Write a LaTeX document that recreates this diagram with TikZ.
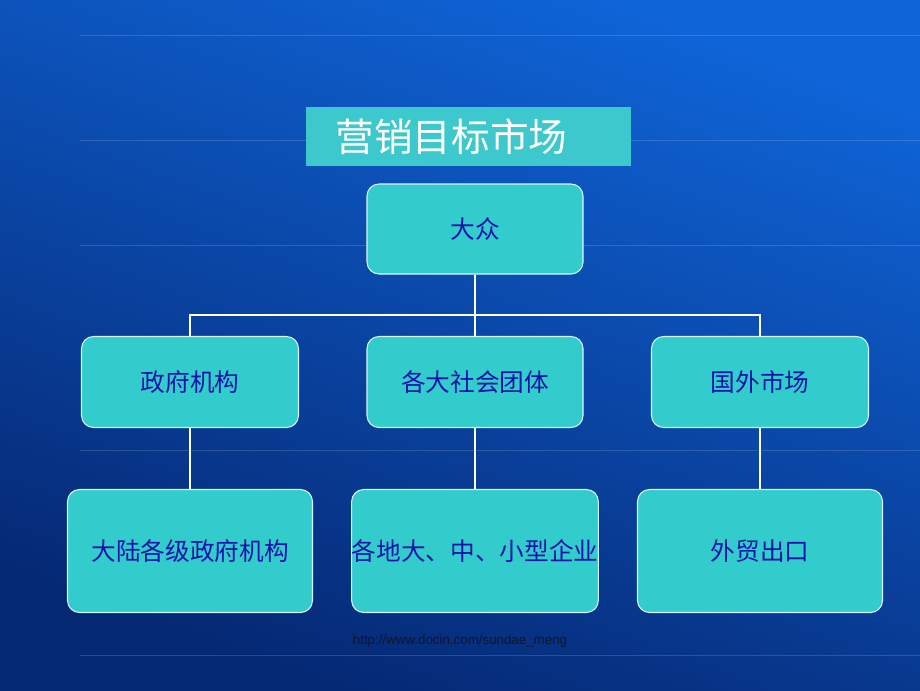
\documentclass[tikz,border=0pt]{standalone}
\usepackage{fontspec}
\setmainfont{Liberation Sans}
\newfontfamily\cjk{Noto Sans CJK SC}
\definecolor{bgtop}{RGB}{15,100,215}
\definecolor{bgbot}{RGB}{5,40,115}
\definecolor{boxfill}{RGB}{51,204,204}
\definecolor{boxtext}{RGB}{20,20,170}
\definecolor{titlefill}{RGB}{60,200,205}
\definecolor{urltext}{RGB}{20,20,40}
\begin{document}
\begin{tikzpicture}[x=0.75pt,y=-0.75pt,
  box/.style={draw=white!85!cyan,line width=0.8pt,rounded corners=9pt,fill=boxfill,text=boxtext,font=\cjk\fontsize{18.5}{20}\selectfont},
  conn/.style={white,line width=1.6pt}]
\useasboundingbox (0,0) rectangle (920,690);
\shade[top color=bgtop,bottom color=bgbot,shading angle=-20] (0,0) rectangle (920,690);
\foreach \yy in {35,140,245,450,655}
  \draw[white,opacity=0.15,line width=0.6pt] (80,\yy) -- (920,\yy);
\node[fill=titlefill,minimum height=59*0.75pt,anchor=north west,inner ysep=0pt,inner xsep=0pt,text width=325*0.75pt,align=left,text=white,font=\cjk\fontsize{29}{32}\selectfont] (title) at (306,107) {\hspace*{22pt}营销目标市场};
\node[box,minimum width=216*0.75pt,minimum height=90*0.75pt] (top) at (475,229) {大众};
\node[box,minimum width=217*0.75pt,minimum height=91*0.75pt] (m1) at (190,382) {政府机构};
\node[box,minimum width=216*0.75pt,minimum height=91*0.75pt] (m2) at (475,382) {各大社会团体};
\node[box,minimum width=217*0.75pt,minimum height=91*0.75pt] (m3) at (760,382) {国外市场};
\node[box,minimum width=245*0.75pt,minimum height=123*0.75pt] (b1) at (190,551) {大陆各级政府机构};
\node[box,minimum width=245*0.75pt,minimum height=123*0.75pt,inner sep=0pt] (b2) at (475,551) {各地大、中、小型企业};
\node[box,minimum width=245*0.75pt,minimum height=123*0.75pt] (b3) at (760,551) {外贸出口};
\coordinate (j) at (475,315);
\draw[conn] (top.south) -- (j);
\draw[conn] (m1.north) |- (j) -| (m3.north);
\draw[conn] (j) -- (m2.north);
\draw[conn] (m1.south) -- (b1.north);
\draw[conn] (m2.south) -- (b2.north);
\draw[conn] (m3.south) -- (b3.north);
\node[font=\fontsize{10}{12}\selectfont,text=urltext] (url) at (460,641) {http://www.docin.com/sundae\_meng};
\end{tikzpicture}
\end{document}
